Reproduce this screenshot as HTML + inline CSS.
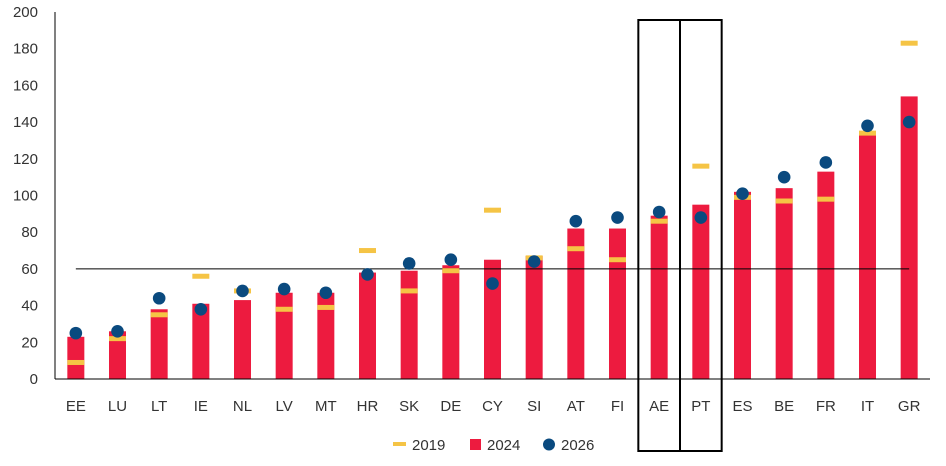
<!DOCTYPE html>
<html><head><meta charset="utf-8"><style>
body{margin:0;background:#fff;}
svg text{font-family:"Liberation Sans",sans-serif;font-size:15px;fill:#333;}
</style></head><body>
<svg id="chart" width="946" height="461" xmlns="http://www.w3.org/2000/svg"></svg>
<script>
const categories=["EE","LU","LT","IE","NL","LV","MT","HR","SK","DE","CY","SI","AT","FI","AE","PT","ES","BE","FR","IT","GR"];
const v2024=[23,26,38,41,43,47,47,58,59,62,65,67,82,82,89,95,102,104,113,135,154];
const v2019=[9,22,35,56,48,38,39,70,48,59,92,66,71,65,86,116,99,97,98,134,183];
const v2026=[25,26,44,38,48,49,47,57,63,65,52,64,86,88,91,88,101,110,118,138,140];
const yTicks=[0,20,40,60,80,100,120,140,160,180,200];
const refValue=60;
const boxed=["AE","PT"];
const NS="http://www.w3.org/2000/svg";
const svg=document.getElementById('chart');
const x0=55,x1=930,yB=379,yT=12;
const step=(x1-x0)/categories.length;
const xc=i=>x0+step*(i+0.5);
const y=v=>yB-(v/200)*(yB-yT);
function mk(t,a){const e=document.createElementNS(NS,t);for(const k in a)e.setAttribute(k,a[k]);svg.appendChild(e);return e;}
yTicks.forEach(t=>{
  const e=mk('text',{x:38,y:y(t)+5,'text-anchor':'end'});e.textContent=t;
  
  
});
categories.forEach((c,i)=>{
  const b=mk('rect',{x:xc(i)-8.5,y:y(v2024[i]),width:17,height:yB-y(v2024[i]),fill:'#ED1B3F'});
  
  
  const e=mk('text',{x:xc(i),y:411,'text-anchor':'middle'});e.textContent=c;
  
  
});
const rl=mk('line',{x1:xc(0),x2:xc(categories.length-1),y1:y(refValue),y2:y(refValue),stroke:'#000','stroke-width':1});


categories.forEach((c,i)=>{
  const d=mk('rect',{x:xc(i)-8.5,y:y(v2019[i])-2.5,width:17,height:5,fill:'#F5C445'});
  
  
  const p=mk('circle',{cx:xc(i),cy:y(v2026[i]),r:6.3,fill:'#0A4A7F'});
  
  
});
const ax=mk('line',{x1:x0,x2:x0,y1:yT,y2:yB,stroke:'#000','stroke-width':1});


const bx=mk('line',{x1:x0,x2:x1,y1:yB,y2:yB,stroke:'#000','stroke-width':1});


boxed.forEach(c=>{
  const i=categories.indexOf(c);
  const r=mk('rect',{x:xc(i)-step/2,y:20,width:step,height:431,fill:'none',stroke:'#000','stroke-width':2});
  
  
});
// legend
const l1=mk('rect',{x:393,y:442,width:13,height:4,fill:'#F5C445'});


const t1=mk('text',{x:412,y:450});t1.textContent='2019';


const l2=mk('rect',{x:470,y:439,width:11,height:11,fill:'#ED1B3F'});


const t2=mk('text',{x:487,y:450});t2.textContent='2024';


const l3=mk('circle',{cx:549,cy:444.5,r:6,fill:'#0A4A7F'});


const t3=mk('text',{x:561,y:450});t3.textContent='2026';


</script>
</body></html>
